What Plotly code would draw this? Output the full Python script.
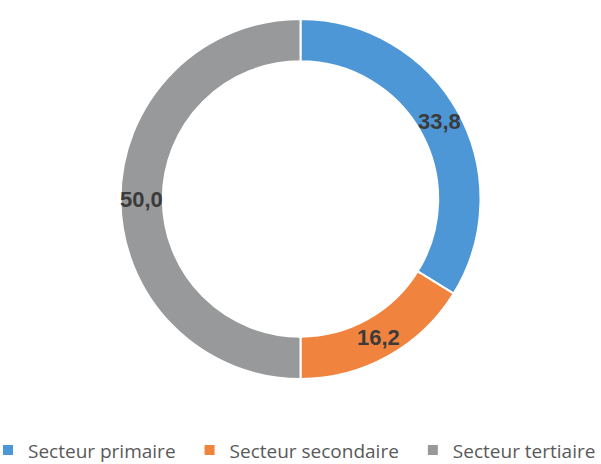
import math
import plotly.graph_objects as go

categories = ["Secteur primaire", "Secteur secondaire", "Secteur tertiaire"]
values = [33.8, 16.2, 50.0]
value_labels = ["33,8", "16,2", "50,0"]
colors = ["#4E97D6", "#F0843F", "#97999A"]

VIEW_W = 601          # visible window width
W, H = 640, 464       # figure slightly wider so the one-row legend is not wrapped
M = dict(l=0, r=0, t=18.5, b=84.5, autoexpand=False)
HOLE = 0.765

pw = W - M["l"] - M["r"]
ph = H - M["t"] - M["b"]
dom_x1 = VIEW_W / pw

fig = go.Figure(go.Pie(
    labels=categories,
    values=values,
    hole=HOLE,
    sort=False,
    direction="clockwise",
    rotation=0,
    domain=dict(x=[0, dom_x1], y=[0, 1]),
    marker=dict(colors=colors, line=dict(color="white", width=2)),
    textposition="none",
    hoverinfo="label+value",
))

# value labels at the middle of each ring segment (computed from the data)
R = min(VIEW_W, ph) / 2
cx = VIEW_W / 2 / pw
rmid = R * (1 + HOLE) / 2
total = sum(values)
cum = 0
annotations = []
for v, lab in zip(values, value_labels):
    ang = (cum + v / 2) / total * 2 * math.pi
    cum += v
    annotations.append(dict(
        x=cx + rmid * math.sin(ang) / pw,
        y=0.5 + rmid * math.cos(ang) / ph,
        xref="paper", yref="paper",
        text=lab, showarrow=False,
        xanchor="center", yanchor="middle",
        font=dict(family="Liberation Sans, Arial, sans-serif", size=22,
                  color="#3B3B3B", weight="bold"),
    ))

fig.update_layout(
    width=W, height=H,
    margin=M,
    paper_bgcolor="white",
    plot_bgcolor="white",
    annotations=annotations,
    showlegend=True,
    legend=dict(
        orientation="h",
        xref="paper", yref="paper",
        x=-21 / pw, xanchor="left",
        y=-(470 - (H - M["b"])) / ph, yanchor="bottom",
        font=dict(family="Open Sans, sans-serif", size=19, color="#595959"),
        itemwidth=30,
        indentation=9,
    ),
)

fig.write_html(
    "out.html",
    config={"displayModeBar": False},
    post_script="document.body.style.margin='0';document.body.style.overflow='hidden';",
)
